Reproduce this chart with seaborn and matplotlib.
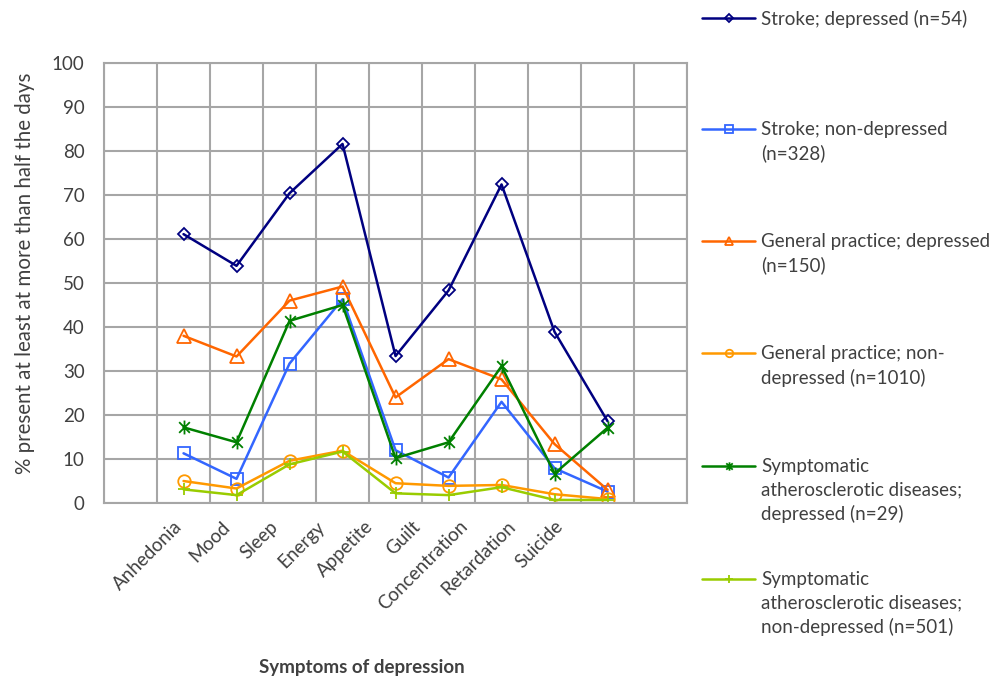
import matplotlib
matplotlib.use("Agg")
import matplotlib.pyplot as plt
from matplotlib.path import Path
import seaborn as sns
import numpy as np

symptoms = ["Anhedonia", "Mood", "Sleep", "Energy", "Appetite", "Guilt",
            "Concentration", "Retardation", "Suicide"]

stroke_dep = [61.1, 53.9, 70.4, 81.6, 33.4, 48.3, 72.4, 38.9, 18.6]
stroke_nondep = [11.3, 5.5, 31.7, 46.3, 12.0, 5.8, 23.0, 7.9, 2.6]
gp_dep = [38.0, 33.3, 46.0, 49.2, 24.0, 32.7, 28.1, 13.4, 3.0]
gp_nondep = [5.0, 3.3, 9.6, 11.9, 4.5, 3.9, 4.1, 2.0, 0.9]
ath_dep = [17.2, 13.8, 41.4, 45.0, 10.2, 13.8, 31.1, 6.7, 17.1]
ath_nondep = [3.1, 1.8, 8.8, 11.7, 2.2, 1.8, 3.6, 0.7, 0.7]

series_labels = ["Stroke; depressed (n=54)",
                 "Stroke; non-depressed\n(n=328)",
                 "General practice; depressed\n(n=150)",
                 "General practice; non-\ndepressed (n=1010)",
                 "Symptomatic\natherosclerotic diseases;\ndepressed (n=29)",
                 "Symptomatic\natherosclerotic diseases;\nnon-depressed (n=501)"]

TEXT = "#404040"
GRID = "#A6A6A6"

# Excel style asterisk: an X plus a vertical bar
star = Path([(-1, -1), (1, 1), (-1, 1), (1, -1), (0, -1.3), (0, 1.3)],
            [Path.MOVETO, Path.LINETO, Path.MOVETO, Path.LINETO, Path.MOVETO, Path.LINETO])

styles = [("#000080", "D", 6.6),
          ("#3366FF", "s", 9.0),
          ("#FF6600", "^", 9.5),
          ("#FF9900", "o", 9.0),
          ("#008000", star, 10.0),
          ("#99CC00", "+", 9.0)]

sns.set_theme(style="white")
plt.rcParams["font.family"] = ["Lato", "DejaVu Sans"]
plt.rcParams["text.color"] = TEXT

fig = plt.figure(figsize=(10.08, 6.83), dpi=100)
ax = fig.add_axes([0.1032, 0.2635, 0.5784, 0.6443])

xpos = np.arange(len(symptoms)) + 1.5
all_series = [stroke_dep, stroke_nondep, gp_dep, gp_nondep, ath_dep, ath_nondep]

for vals, lab, (col, mk, ms) in zip(all_series, series_labels, styles):
    sns.lineplot(x=xpos, y=vals, ax=ax, color=col, lw=1.8, marker=mk,
                 markersize=ms, markerfacecolor="none", markeredgecolor=col,
                 markeredgewidth=1.3, label=lab, legend=False)

ax.set_xlim(0, 11)
ax.set_ylim(0, 100)
ax.set_yticks(range(0, 101, 10))
# the category labels in the original sit on a slightly tighter pitch than the points
label_pos = 1.43 + np.arange(len(symptoms)) * 0.897
ax.set_xticks(label_pos)
ax.set_xticklabels(symptoms, rotation=45, ha="right", va="center",
                   rotation_mode="anchor")
ax.set_xticks(range(12), minor=True)
ax.grid(which="minor", axis="x", color=GRID, lw=1.5)
ax.grid(which="major", axis="y", color=GRID, lw=1.5)
ax.grid(which="major", axis="x", visible=False)
ax.set_axisbelow(True)
ax.tick_params(which="both", length=0, labelsize=13.5, colors=TEXT)
ax.tick_params(axis="x", pad=15)
ax.tick_params(axis="y", pad=14)
for sp in ax.spines.values():
    sp.set_color(GRID)
    sp.set_linewidth(1.5)

ax.set_ylabel("% present at least at more than half the days", fontsize=14.8, color=TEXT)
ax.yaxis.set_label_coords(-0.118, 0.523)
ax.set_xlabel("Symptoms of depression", fontsize=13.5, fontweight="bold", color=TEXT)
ax.xaxis.set_label_coords(0.443, -0.355)

# legend: one block per series, evenly spaced down the right side
handles, labs = ax.get_legend_handles_labels()
tops = [10, 121, 233, 345, 458, 571]
for h, lab, top in zip(handles, labs, tops):
    leg = fig.legend([h], [lab], loc="upper left",
                     bbox_to_anchor=(702 / 1008, 1 - top / 683),
                     frameon=False, fontsize=13.5, handlelength=2.85,
                     handleheight=1.2, handletextpad=0.3, borderpad=0,
                     borderaxespad=0, markerscale=0.6)
    for t in leg.get_texts():
        t.set_linespacing(1.45)
    for colbox in leg._legend_handle_box.get_children():
        for item in colbox.get_children():
            item.align = "top"

fig.savefig("out.png", dpi=100)
